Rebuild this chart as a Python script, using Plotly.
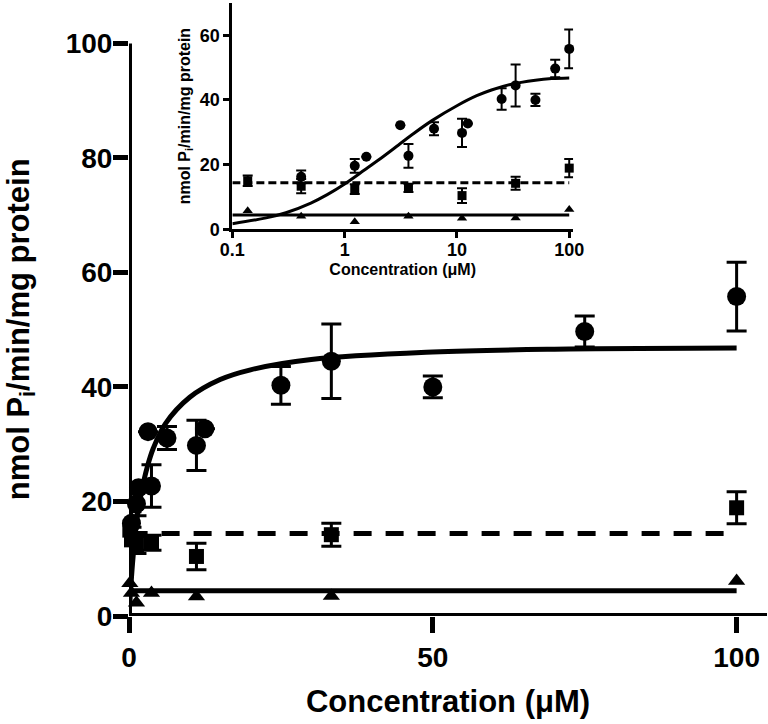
import plotly.graph_objects as go

# --- data ---
CIRCLE_X = [0.41, 1.23, 1.56, 3.13, 3.7, 6.25, 11.1, 12.5, 25, 33.3, 50, 75, 100]
CIRCLE_Y = [16.2, 19.6, 22.4, 32.2, 22.7, 31.1, 29.8, 32.7, 40.3, 44.5, 40.0, 49.7, 55.8]
CIRCLE_ERR = [2.0, 2.1, None, None, 3.7, 2.0, 4.4, None, 3.3, 6.5, 1.9, 2.7, 6.0]

SQUARE_X = [0.137, 0.41, 1.23, 3.7, 11.1, 33.3, 100]
SQUARE_Y = [15.0, 13.3, 12.4, 12.8, 10.4, 14.2, 18.9]
SQUARE_ERR = [1.6, 2.2, 1.5, 1.3, 2.3, 2.0, 2.8]

TRIANGLE_X = [0.137, 0.41, 1.23, 3.7, 11.1, 33.3, 100]
TRIANGLE_Y = [5.7, 4.0, 2.3, 4.0, 3.4, 3.5, 6.1]

# fitted curve for the circles
CURVE_X = [0.1, 0.2, 0.3, 0.5, 0.7, 1, 1.5, 2, 3, 4, 6, 10, 15, 20, 30, 50, 70, 100]
CURVE_Y = [1.7, 3.5, 5.1, 8.1, 10.7, 14.0, 18.3, 21.4, 26.0, 29.3, 33.6, 38.2, 41.3, 43.0, 44.8, 46.1, 46.6, 46.8]

# flat fits for squares (dashed) and triangles (solid)
FLAT_X = [0.1, 100]
SQUARE_FIT = [14.4, 14.4]
TRIANGLE_FIT = [4.4, 4.4]

MAIN_YTICKS = [0, 20, 40, 60, 80, 100]
MAIN_XTICKS = [0, 50, 100]
INSET_YTICKS = [0, 20, 40, 60]
INSET_XTICKS = [0.1, 1, 10, 100]
INSET_XLABELS = ["0.1", "1", "10", "100"]

Y_TITLE = "nmol P<sub>i</sub>/min/mg protein"
X_TITLE = "Concentration (μM)"

FONT = "Arial, Liberation Sans, sans-serif"
BLACK = "black"

fig = go.Figure()


def add_set(xa, ya, big):
    # one panel worth of traces (main: big=True, inset: big=False)
    lw = 5 if big else 3
    fig.add_trace(go.Scatter(x=CURVE_X, y=CURVE_Y, mode="lines", line=dict(color=BLACK, width=lw, shape="spline"),
                             xaxis=xa, yaxis=ya, showlegend=False, hoverinfo="skip"))
    fig.add_trace(go.Scatter(x=FLAT_X, y=SQUARE_FIT, mode="lines",
                             line=dict(color=BLACK, width=lw, dash="18px,14px" if big else "8px,4px"),
                             xaxis=xa, yaxis=ya, showlegend=False, hoverinfo="skip"))
    fig.add_trace(go.Scatter(x=FLAT_X, y=TRIANGLE_FIT, mode="lines", line=dict(color=BLACK, width=lw),
                             xaxis=xa, yaxis=ya, showlegend=False, hoverinfo="skip"))
    eb = dict(type="data", visible=True, color=BLACK, thickness=3 if big else 2, width=10 if big else 5)
    fig.add_trace(go.Scatter(x=SQUARE_X, y=SQUARE_Y, mode="markers",
                             marker=dict(symbol="square", size=15 if big else 9, color=BLACK),
                             error_y=dict(array=SQUARE_ERR, **eb), cliponaxis=False,
                             xaxis=xa, yaxis=ya, showlegend=False))
    fig.add_trace(go.Scatter(x=TRIANGLE_X, y=TRIANGLE_Y, mode="markers",
                             marker=dict(symbol="triangle-up", size=15 if big else 9, color=BLACK),
                             cliponaxis=False, xaxis=xa, yaxis=ya, showlegend=False))
    fig.add_trace(go.Scatter(x=CIRCLE_X, y=CIRCLE_Y, mode="markers",
                             marker=dict(symbol="circle", size=19 if big else 10, color=BLACK),
                             error_y=dict(array=CIRCLE_ERR, **eb), cliponaxis=False,
                             xaxis=xa, yaxis=ya, showlegend=False))


add_set("x", "y", True)
add_set("x2", "y2", False)

title_font = dict(family=FONT, size=31, color=BLACK, weight="bold")
tick_font = dict(family=FONT, size=28, color=BLACK, weight="bold")
in_title_font = dict(family=FONT, size=16, color=BLACK, weight="bold")
in_tick_font = dict(family=FONT, size=18, color=BLACK, weight="bold")

fig.update_layout(
    width=768, height=724,
    margin=dict(l=129, r=1, t=3, b=108),
    plot_bgcolor="white", paper_bgcolor="white",
    xaxis=dict(range=[0, 105], showgrid=False, zeroline=False, showline=False, automargin=False,
               tickvals=MAIN_XTICKS, ticks="outside", ticklen=16, tickwidth=5, tickcolor=BLACK,
               tickfont=tick_font,
               title=dict(text=X_TITLE, font=title_font, standoff=18)),
    yaxis=dict(range=[0, 107.07], showgrid=False, zeroline=False, showline=False, automargin=False,
               tickvals=MAIN_YTICKS, ticks="outside", ticklen=15, tickwidth=5, tickcolor=BLACK,
               tickfont=tick_font, ticklabelstandoff=-5),
    xaxis2=dict(type="log", range=[-1, 2.034], domain=[0.162, 0.696], anchor="y2", automargin=False,
                showgrid=False, zeroline=False, showline=True, linewidth=3, linecolor=BLACK,
                tickvals=INSET_XTICKS, ticktext=INSET_XLABELS, ticks="outside", ticklen=6, tickwidth=3,
                tickcolor=BLACK, tickfont=in_tick_font, ticklabelstandoff=-4,
                title=dict(text=X_TITLE, font=in_title_font, standoff=6)),
    yaxis2=dict(range=[0, 70], domain=[0.631, 1.0], anchor="x2", automargin=False,
                showgrid=False, zeroline=False, showline=True, linewidth=3, linecolor=BLACK,
                tickvals=INSET_YTICKS, ticks="outside", ticklen=6, tickwidth=3, tickcolor=BLACK,
                tickfont=in_tick_font,
                title=dict(text=Y_TITLE, font=in_title_font, standoff=6)),
)

# main y title as annotation, centred on the 0-100 span like the original
fig.add_annotation(text=Y_TITLE, textangle=-90, font=title_font, showarrow=False,
                   xref="paper", yref="y", x=-0.17, y=50, xanchor="center", yanchor="middle")

# main axis lines drawn as shapes so they sit on x=0 / y=0 like the original
fig.add_shape(type="line", xref="x", yref="y", x0=0, x1=0, y0=0, y1=100,
              line=dict(color=BLACK, width=6), layer="above")
fig.add_shape(type="line", xref="paper", yref="y", x0=0, x1=1, y0=0, y1=0,
              line=dict(color=BLACK, width=6), layer="above")

# page body margin would shift the figure by 8px
fig.write_html("out.html", config={"displayModeBar": False},
               post_script="document.body.style.margin='0';")
